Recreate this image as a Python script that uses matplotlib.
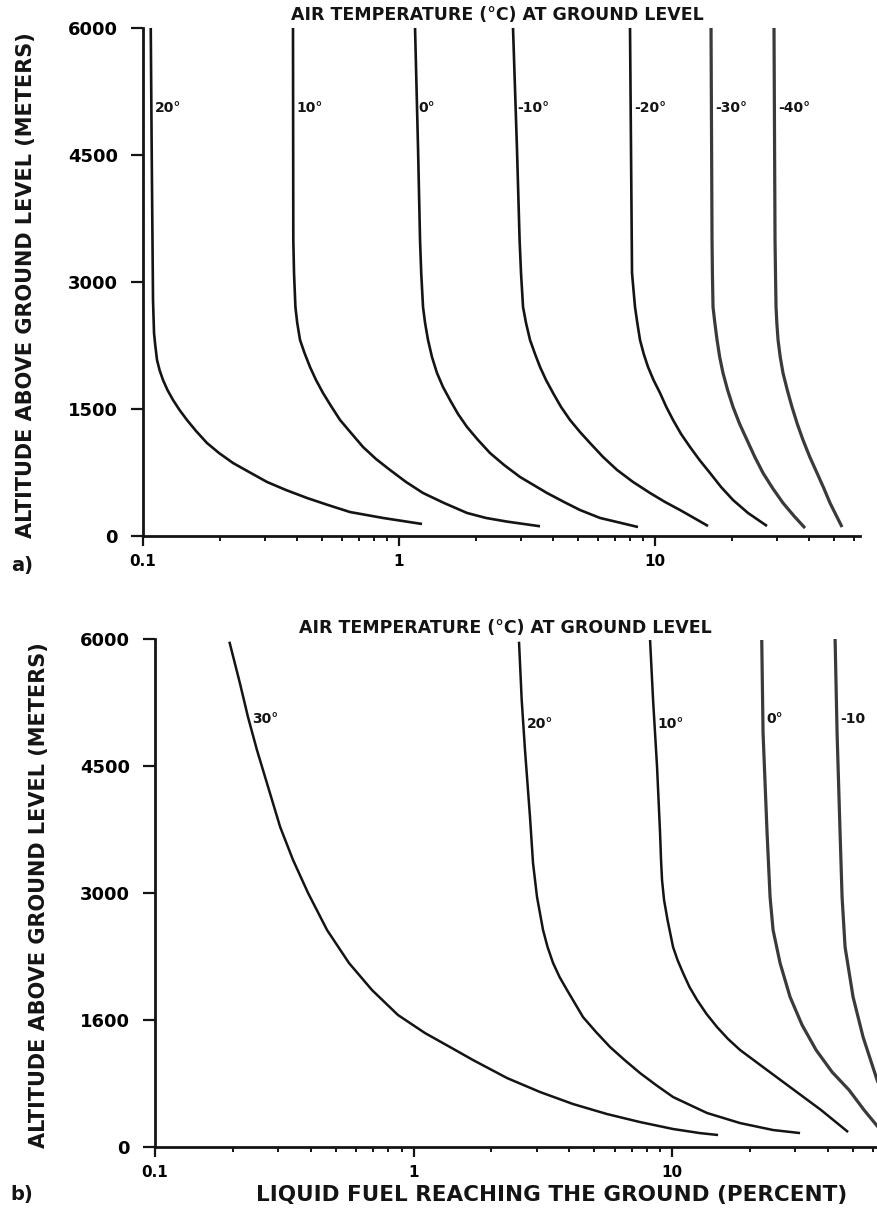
import numpy as np
import matplotlib
matplotlib.use('Agg')
import matplotlib.pyplot as plt
from matplotlib.ticker import FixedLocator, LogLocator, NullFormatter

# ---- panel a: altitude (m) vs liquid fuel reaching the ground (%) ----
labels_a = ['20°', '10°', '0°', '-10°', '-20°', '-30°', '-40°']

alt_a_p20 = [6000, 4559, 2787, 2398, 2256, 2079, 1961, 1842, 1724, 1606, 1488, 1370, 1240,
             1098, 980, 862, 756, 638, 543, 449, 366, 283, 213, 142]
fuel_a_p20 = [0.1072, 0.1081, 0.1094, 0.1104, 0.1116, 0.1134, 0.1160, 0.1197, 0.1246, 0.1310,
              0.1389, 0.1485, 0.1611, 0.1778, 0.1981, 0.2247, 0.2595, 0.3051, 0.3619, 0.4371,
              0.528, 0.6437, 0.866, 1.23]

alt_a_p10 = [6000, 3496, 3106, 2704, 2516, 2315, 2161, 1996, 1842, 1689, 1535, 1370, 1217,
             1051, 909, 780, 638, 508, 390, 272, 213, 170, 115]
fuel_a_p10 = [0.3853, 0.3864, 0.3889, 0.3938, 0.4003, 0.4105, 0.4274, 0.4490, 0.4740, 0.5047,
              0.5425, 0.5884, 0.6494, 0.7235, 0.8133, 0.9222, 1.065, 1.241, 1.499, 1.844,
              2.187, 2.642, 3.555]

alt_a_0 = [6000, 4559, 3496, 3106, 2704, 2516, 2315, 2114, 1925, 1760, 1606, 1441, 1287,
           1134, 980, 839, 697, 508, 402, 307, 213, 154, 106]
fuel_a_0 = [1.155, 1.187, 1.208, 1.221, 1.241, 1.264, 1.298, 1.345, 1.407, 1.485, 1.582,
            1.700, 1.844, 2.035, 2.267, 2.572, 2.970, 3.785, 4.411, 5.093, 6.099, 7.368, 8.584]

alt_a_m10 = [6000, 4559, 3496, 3106, 2704, 2516, 2315, 2150, 1996, 1842, 1689, 1524, 1370,
             1228, 1098, 933, 780, 638, 508, 402, 307, 213, 118]
fuel_a_m10 = [2.788, 2.890, 2.958, 2.996, 3.051, 3.134, 3.249, 3.398, 3.555, 3.752, 3.996,
              4.294, 4.656, 5.093, 5.573, 6.268, 7.107, 8.207, 9.561, 10.94, 12.52, 14.20, 16.11]

alt_a_m20 = [6000, 4559, 3106, 2704, 2516, 2315, 2150, 1996, 1842, 1689, 1524, 1370, 1205,
             1051, 898, 744, 579, 425, 272, 118]
fuel_a_m20 = [7.986, 8.058, 8.131, 8.353, 8.528, 8.738, 9.034, 9.391, 9.866, 10.46, 11.07,
              11.76, 12.64, 13.70, 14.92, 16.40, 18.11, 20.17, 23.08, 27.38]

alt_a_m30 = [6000, 3496, 3083, 2704, 2516, 2315, 2114, 1925, 1724, 1524, 1323, 1134, 933,
             744, 567, 390, 236, 94]
fuel_a_m30 = [16.55, 16.70, 16.76, 16.85, 17.13, 17.47, 17.89, 18.43, 19.21, 20.17, 21.41,
              22.87, 24.54, 26.42, 28.77, 31.62, 34.91, 38.54]

alt_a_m40 = [6000, 3496, 3083, 2704, 2516, 2315, 2114, 1925, 1724, 1524, 1323, 1134, 933,
             744, 567, 390, 248, 106]
fuel_a_m40 = [29.16, 29.43, 29.56, 29.70, 29.91, 30.24, 30.84, 31.62, 32.86, 34.28, 35.96,
              37.85, 40.24, 42.94, 45.60, 48.26, 50.93, 53.77]

# ---- panel b ----
labels_b = ['30°', '20°', '10°', '0°', '-10']

alt_b_p30 = [5968, 5480, 5078, 4689, 4299, 3779, 3390, 3000, 2563, 2173, 1854, 1559, 1346,
             1181, 1028, 815, 650, 508, 390, 295, 213, 165, 142]
fuel_b_p30 = [0.194, 0.213, 0.229, 0.248, 0.271, 0.305, 0.342, 0.391, 0.463, 0.563, 0.691,
              0.871, 1.108, 1.384, 1.698, 2.300, 3.085, 4.14, 5.60, 7.52, 10.09, 12.8, 15.07]

alt_b_p20 = [5968, 5279, 4689, 3898, 3354, 2953, 2563, 2362, 2173, 2008, 1854, 1535, 1358,
             1181, 1028, 874, 732, 591, 496, 402, 283, 201, 165]
fuel_b_p20 = [2.559, 2.621, 2.699, 2.822, 2.899, 3.004, 3.170, 3.300, 3.466, 3.672, 3.925,
              4.525, 5.082, 5.758, 6.551, 7.518, 8.674, 10.09, 11.74, 13.66, 18.33, 24.59, 31.27]

alt_b_p10 = [5988, 5280, 4488, 3709, 3390, 3153, 2917, 2681, 2362, 2209, 2055, 1890, 1736,
             1571, 1417, 1276, 1146, 909, 673, 437, 177]
fuel_b_p10 = [8.222, 8.445, 8.750, 8.987, 9.066, 9.147, 9.313, 9.607, 10.09, 10.50, 11.03,
              11.68, 12.50, 13.60, 14.93, 16.47, 18.33, 23.31, 29.65, 37.71, 47.97]

alt_b_0 = [5988, 4890, 3709, 2953, 2563, 2173, 1772, 1441, 1146, 886, 673, 437, 236, 83]
fuel_b_0 = [22.23, 22.49, 23.31, 23.94, 24.59, 26.17, 28.61, 31.84, 36.07, 41.59, 48.39,
            55.30, 62.65, 71.60]

alt_b_m10 = [6000, 4890, 3709, 2953, 2362, 1772, 1299, 756, 378, 142]
fuel_b_m10 = [42.72, 43.48, 44.66, 45.46, 46.69, 50.14, 54.81, 62.65, 72.89, 83.31]

yticks = [0, 1500, 3000, 4500, 6000]
yticklabels_a = ['0', '1500', '3000', '4500', '6000']
yticklabels_b = ['0', '1600', '3000', '4500', '6000']
xticks = [0.1, 1, 10]
xticklabels = ['0.1', '1', '10']

title_txt = 'AIR TEMPERATURE (°C) AT GROUND LEVEL'
ylab_txt = 'ALTITUDE ABOVE GROUND LEVEL (METERS)'
xlab_txt = 'LIQUID FUEL REACHING THE GROUND (PERCENT)'

INK = '#141414'
GREY = '#3a3a3a'

fig = plt.figure(figsize=(8.78, 12.26), dpi=100)


def style_axes(ax, xmax, ylabels):
    ax.set_xscale('log')
    ax.set_xlim(0.1, xmax)
    ax.set_ylim(0, 6000)
    for s in ['top', 'right']:
        ax.spines[s].set_visible(False)
    for s in ['left', 'bottom']:
        ax.spines[s].set_linewidth(2.0)
        ax.spines[s].set_color(INK)
    ax.xaxis.set_major_locator(FixedLocator(xticks))
    ax.set_xticklabels(xticklabels)
    ax.xaxis.set_minor_locator(LogLocator(base=10, subs=np.arange(2, 10)))
    ax.xaxis.set_minor_formatter(NullFormatter())
    ax.set_yticks(yticks)
    ax.set_yticklabels(ylabels)
    ax.tick_params(axis='x', which='major', direction='out', length=7, width=1.6,
                   pad=6, labelsize=11, color=INK)
    ax.tick_params(axis='x', which='minor', direction='out', length=3.5, width=1.4, color=INK)
    ax.tick_params(axis='y', which='major', direction='out', length=9, width=1.6,
                   pad=9, labelsize=13, color=INK)
    for t in ax.get_xticklabels() + ax.get_yticklabels():
        t.set_fontweight('bold')


# panel a
ax_a = fig.add_axes([0.1629, 0.5628, 0.8166, 0.4144])
style_axes(ax_a, 63.2, yticklabels_a)
curves_a = [(fuel_a_p20, alt_a_p20), (fuel_a_p10, alt_a_p10), (fuel_a_0, alt_a_0),
            (fuel_a_m10, alt_a_m10), (fuel_a_m20, alt_a_m20), (fuel_a_m30, alt_a_m30),
            (fuel_a_m40, alt_a_m40)]
for i, (fx, ay) in enumerate(curves_a):
    col = GREY if i >= 5 else INK
    lw = 2.3 if i >= 5 else 1.9
    ax_a.plot(fx, ay, color=col, lw=lw, solid_capstyle='butt', clip_on=False)
    ax_a.text(fx[0] * 1.035, 5050, labels_a[i], fontsize=10, fontweight='bold',
              ha='left', va='center', color=INK)

# panel b
ax_b = fig.add_axes([0.1765, 0.0644, 0.8235, 0.4144])
style_axes(ax_b, 62.6, yticklabels_b)
curves_b = [(fuel_b_p30, alt_b_p30), (fuel_b_p20, alt_b_p20), (fuel_b_p10, alt_b_p10),
            (fuel_b_0, alt_b_0), (fuel_b_m10, alt_b_m10)]
lab_alt_b = [5050, 5000, 5000, 5050, 5050]
for i, (fx, ay) in enumerate(curves_b):
    col = GREY if i >= 3 else INK
    lw = 2.3 if i >= 3 else 1.8
    ax_b.plot(fx, ay, color=col, lw=lw, solid_capstyle='butt')
    xl = np.interp(lab_alt_b[i], ay[::-1], fx[::-1]) * 1.03
    ax_b.text(xl, lab_alt_b[i], labels_b[i], fontsize=10, fontweight='bold',
              ha='left', va='center', color=INK)

# titles, labels
fig.text(0.566, 0.9878, title_txt, ha='center', va='center', fontsize=12.5,
         fontweight='bold', color=INK)
fig.text(0.576, 0.4878, title_txt, ha='center', va='center', fontsize=12.5,
         fontweight='bold', color=INK)
fig.text(0.030, 0.7675, ylab_txt, rotation=90, ha='center', va='center',
         fontsize=15, fontweight='bold', color=INK)
fig.text(0.044, 0.270, ylab_txt, rotation=90, ha='center', va='center',
         fontsize=15, fontweight='bold', color=INK)
fig.text(0.628, 0.0253, xlab_txt, ha='center', va='center',
         fontsize=15.5, fontweight='bold', color=INK)
fig.text(0.025, 0.539, 'a)', ha='center', va='center', fontsize=14,
         fontweight='bold', color=INK)
fig.text(0.025, 0.0253, 'b)', ha='center', va='center', fontsize=14,
         fontweight='bold', color=INK)

fig.savefig('out.png', dpi=100, facecolor='white')
